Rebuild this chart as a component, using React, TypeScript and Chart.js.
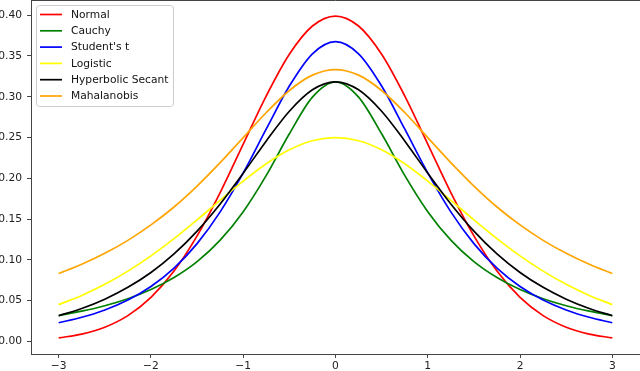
import React, { useEffect, useRef } from 'react';
import { Chart, registerables } from 'chart.js';

Chart.register(...registerables);

const xValues = [-3, -2.75, -2.5, -2.25, -2, -1.75, -1.5, -1.25, -1, -0.75, -0.5, -0.25, 0, 0.25, 0.5, 0.75, 1, 1.25, 1.5, 1.75, 2, 2.25, 2.5, 2.75, 3];

const normal = [0.0044, 0.0091, 0.0175, 0.0317, 0.0540, 0.0863, 0.1295, 0.1826, 0.2420, 0.3011, 0.3521, 0.3867, 0.3989, 0.3867, 0.3521, 0.3011, 0.2420, 0.1826, 0.1295, 0.0863, 0.0540, 0.0317, 0.0175, 0.0091, 0.0044];
const cauchy = [0.0318, 0.0372, 0.0439, 0.0525, 0.0637, 0.0784, 0.0979, 0.1242, 0.1592, 0.2037, 0.2546, 0.2996, 0.3183, 0.2996, 0.2546, 0.2037, 0.1592, 0.1242, 0.0979, 0.0784, 0.0637, 0.0525, 0.0439, 0.0372, 0.0318];
const studentT = [0.0230, 0.0297, 0.0387, 0.0509, 0.0675, 0.0900, 0.1200, 0.1589, 0.2067, 0.2606, 0.3132, 0.3527, 0.3676, 0.3527, 0.3132, 0.2606, 0.2067, 0.1589, 0.1200, 0.0900, 0.0675, 0.0509, 0.0387, 0.0297, 0.0230];
const logistic = [0.0452, 0.0565, 0.0701, 0.0863, 0.1050, 0.1261, 0.1491, 0.1731, 0.1966, 0.2179, 0.2350, 0.2461, 0.2500, 0.2461, 0.2350, 0.2179, 0.1966, 0.1731, 0.1491, 0.1261, 0.1050, 0.0863, 0.0701, 0.0565, 0.0452];
const hypSecant = [0.0316, 0.0405, 0.0519, 0.0664, 0.0846, 0.1074, 0.1353, 0.1686, 0.2063, 0.2459, 0.2823, 0.3086, 0.3183, 0.3086, 0.2823, 0.2459, 0.2063, 0.1686, 0.1353, 0.1074, 0.0846, 0.0664, 0.0519, 0.0405, 0.0316];
const mahalanobis = [0.0833, 0.0947, 0.1081, 0.1240, 0.1429, 0.1649, 0.1905, 0.2192, 0.2500, 0.2807, 0.3077, 0.3265, 0.3333, 0.3265, 0.3077, 0.2807, 0.2500, 0.2192, 0.1905, 0.1649, 0.1429, 0.1240, 0.1081, 0.0947, 0.0833];

const seriesNames = ['Normal', 'Cauchy', "Student's t", 'Logistic', 'Hyperbolic Secant', 'Mahalanobis'];
const seriesValues = [normal, cauchy, studentT, logistic, hypSecant, mahalanobis];
const seriesColors = ['#ff0000', '#008000', '#0000ff', '#ffff00', '#000000', '#ffa500'];

const xTicks = [-3, -2, -1, 0, 1, 2, 3];
const yTicks = [0, 0.05, 0.1, 0.15, 0.2, 0.25, 0.3, 0.35, 0.4];

const FONT = { family: '"DejaVu Sans", sans-serif', size: 10.7 };
const AXIS_COLOR = '#444444';

const framePlugin = {
  id: 'frameAndLegend',
  afterDraw(chart: any) {
    const { ctx, chartArea: a } = chart;
    ctx.save();
    ctx.strokeStyle = AXIS_COLOR;
    ctx.lineWidth = 1;
    ctx.beginPath();
    ctx.moveTo(a.left, a.top + 0.5);
    ctx.lineTo(a.right, a.top + 0.5);
    ctx.stroke();

    // legend
    const x0 = 36.5, y0 = 5.5, w = 137, h = 101, r = 3;
    ctx.fillStyle = 'rgba(255,255,255,0.85)';
    ctx.strokeStyle = '#cccccc';
    ctx.beginPath();
    ctx.roundRect(x0, y0, w, h, r);
    ctx.fill();
    ctx.stroke();
    ctx.font = `${FONT.size}px ${FONT.family}`;
    ctx.textBaseline = 'middle';
    ctx.textAlign = 'left';
    chart.data.datasets.forEach((ds: any, i: number) => {
      const y = 14.5 + i * 16.3;
      ctx.strokeStyle = ds.borderColor;
      ctx.lineWidth = 1.7;
      ctx.beginPath();
      ctx.moveTo(40, y);
      ctx.lineTo(62, y);
      ctx.stroke();
      ctx.fillStyle = '#111111';
      ctx.fillText(ds.label, 71, y + 0.5);
    });
    ctx.restore();
  },
};

const fmtX = (v: number) => (v < 0 ? '\u2212' + Math.abs(v) : String(v));

export default function App() {
  const ref = useRef<HTMLCanvasElement>(null);
  useEffect(() => {
    if (!ref.current) return;
    const chart = new Chart(ref.current, {
      type: 'line',
      data: {
        datasets: seriesNames.map((name, i) => ({
          label: name,
          data: xValues.map((x, j) => ({ x, y: seriesValues[i][j] })),
          borderColor: seriesColors[i],
          backgroundColor: seriesColors[i],
          borderWidth: 1.7,
          pointRadius: 0,
          fill: false,
          cubicInterpolationMode: 'monotone' as const,
          order: seriesNames.length - i,
        })),
      },
      options: {
        animation: false,
        responsive: false,
        layout: { padding: 0 },
        plugins: { legend: { display: false }, tooltip: { enabled: false } },
        scales: {
          x: {
            type: 'linear',
            min: -3.3,
            max: 3.3,
            grid: { display: true, drawOnChartArea: false, drawTicks: true, tickLength: 4, tickColor: AXIS_COLOR },
            border: { display: true, color: AXIS_COLOR, width: 1 },
            ticks: { font: FONT, color: '#222222', padding: 2, maxRotation: 0, autoSkip: false, callback: (v: any) => fmtX(Number(v)) },
            afterBuildTicks: (s: any) => { s.ticks = xTicks.map((v) => ({ value: v })); },
            afterFit: (s: any) => { s.height = 17; s.paddingLeft = 0; s.paddingRight = 0; },
          },
          y: {
            type: 'linear',
            min: -0.0153,
            max: 0.4186,
            grid: { display: true, drawOnChartArea: false, drawTicks: true, tickLength: 4, tickColor: AXIS_COLOR },
            border: { display: true, color: AXIS_COLOR, width: 1 },
            ticks: { font: FONT, color: '#222222', padding: 5, autoSkip: false, callback: (v: any) => Number(v).toFixed(2) },
            afterBuildTicks: (s: any) => { s.ticks = yTicks.map((v) => ({ value: v })); },
            afterFit: (s: any) => { s.width = 31; s.paddingTop = 0; s.paddingBottom = 0; },
          },
        },
      },
      plugins: [framePlugin],
    });
    return () => chart.destroy();
  }, []);
  return (
    <div style={{ position: 'fixed', left: 0, top: 0, width: 640, height: 371, background: '#fff' }}>
      <canvas ref={ref} width={640} height={371} style={{ display: 'block', width: 640, height: 371 }} />
    </div>
  );
}
